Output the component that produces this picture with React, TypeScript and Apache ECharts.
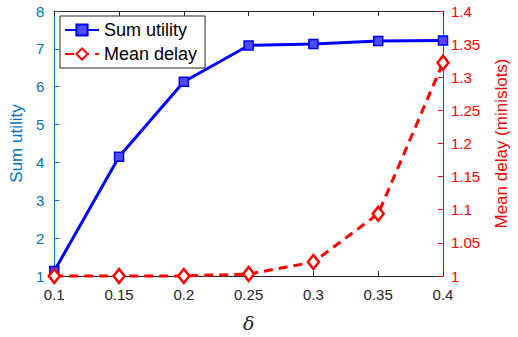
import React, { useEffect, useRef } from "react";
import * as echarts from "echarts";

const deltas = [0.1, 0.15, 0.2, 0.25, 0.3, 0.35, 0.4];
const sumUtility = [1.13, 4.15, 6.13, 7.09, 7.13, 7.21, 7.22];
const meanDelay = [1.0, 1.0, 1.0, 1.003, 1.021, 1.094, 1.322];

const AX = "#262626";
const BLUE_AX = "#0072BD";
const RED = "#FF0000";
const FONT = "Liberation Sans";

const fmt = (v: number) => {
  const r = Math.round(v * 1000) / 1000;
  return String(r);
};

export default function App() {
  const ref = useRef<HTMLDivElement>(null);
  useEffect(() => {
    const chart = echarts.init(ref.current!, undefined, { renderer: "svg" });
    chart.setOption({
      animation: false,
      backgroundColor: "#fff",
      grid: { left: 53, right: 66, top: 11, bottom: 53, containLabel: false },
      legend: {
        orient: "vertical",
        left: 60,
        top: 16,
        padding: [5, 8, 5, 4],
        itemGap: 6,
        itemWidth: 34,
        itemHeight: 14,
        borderColor: AX,
        borderWidth: 1,
        borderRadius: 0,
        backgroundColor: "#fff",
        textStyle: { fontFamily: FONT, fontSize: 18, color: "#000" },
        data: ["Sum utility", "Mean delay"],
      },
      xAxis: [
        {
          type: "value",
          min: 0.1,
          max: 0.4,
          interval: 0.05,
          name: "δ",
          nameLocation: "middle",
          nameGap: 37,
          nameTextStyle: { fontFamily: "DejaVu Serif", fontStyle: "italic", fontSize: 19, color: AX },
          axisLine: { lineStyle: { color: AX, width: 1 } },
          axisTick: { inside: true, length: 5, lineStyle: { color: AX } },
          axisLabel: { fontFamily: FONT, fontSize: 15, color: AX, margin: 11, formatter: fmt },
          splitLine: { show: false },
        },
        {
          type: "value",
          position: "top",
          min: 0.1,
          max: 0.4,
          interval: 0.05,
          axisLine: { lineStyle: { color: AX, width: 1 } },
          axisTick: { inside: true, length: 5, lineStyle: { color: AX } },
          axisLabel: { show: false },
          splitLine: { show: false },
        },
      ],
      yAxis: [
        {
          type: "value",
          min: 1,
          max: 8,
          interval: 1,
          name: "Sum utility",
          nameLocation: "middle",
          nameGap: 18,
          nameTextStyle: { fontFamily: FONT, fontSize: 17, color: BLUE_AX },
          axisLine: { show: true, lineStyle: { color: BLUE_AX, width: 1 } },
          axisTick: { show: true, inside: true, length: 5, lineStyle: { color: BLUE_AX } },
          axisLabel: { fontFamily: FONT, fontSize: 15, color: BLUE_AX, margin: 10 },
          splitLine: { show: false },
        },
        {
          type: "value",
          min: 1,
          max: 1.4,
          interval: 0.05,
          position: "right",
          name: "Mean delay (minislots)",
          nameLocation: "middle",
          nameGap: 50,
          nameRotate: 90,
          nameTextStyle: { fontFamily: FONT, fontSize: 17, color: RED },
          axisLine: { show: true, lineStyle: { color: RED, width: 1 } },
          axisTick: { show: true, inside: true, length: 5, lineStyle: { color: RED } },
          axisLabel: { fontFamily: FONT, fontSize: 15, color: RED, margin: 8, formatter: fmt },
          splitLine: { show: false },
        },
      ],
      series: [
        {
          name: "Sum utility",
          type: "line",
          xAxisIndex: 0,
          yAxisIndex: 0,
          data: deltas.map((d, i) => [d, sumUtility[i]]),
          symbol: "rect",
          symbolSize: 9,
          clip: false,
          z: 3,
          lineStyle: { color: "#0000FF", width: 3 },
          itemStyle: { color: "#4d4dff", borderColor: "#0000FF", borderWidth: 1.5 },
        },
        {
          name: "Mean delay",
          type: "line",
          xAxisIndex: 0,
          yAxisIndex: 1,
          data: deltas.map((d, i) => [d, meanDelay[i]]),
          symbol: "diamond",
          symbolSize: [11, 14],
          clip: false,
          z: 4,
          lineStyle: { color: RED, width: 3, type: [9, 6] },
          itemStyle: { color: "#fff", borderColor: RED, borderWidth: 2.5 },
        },
      ],
    });
    return () => chart.dispose();
  }, []);
  return <div ref={ref} style={{ position: "fixed", left: 0, top: 0, width: 518, height: 337 }} />;
}
